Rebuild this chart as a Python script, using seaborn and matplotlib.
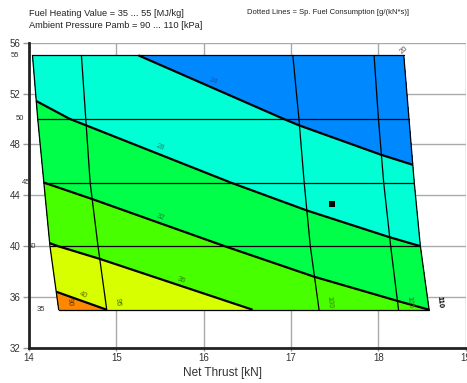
import numpy as np
import pandas as pd
import matplotlib
matplotlib.use("Agg")
import matplotlib.pyplot as plt
import seaborn as sns

# Carpet parameters
heating_values = [35, 40, 45, 50, 55]          # fuel heating value [MJ/kg]
ambient_pressures = [90, 95, 100, 105, 110]    # ambient pressure [kPa]

# Net thrust [kN] at each carpet node (rows: heating value, columns: pressure)
net_thrust = [
    [14.34, 14.89, 17.32, 18.23, 18.58],
    [14.24, 14.79, 17.22, 18.14, 18.48],
    [14.17, 14.70, 17.15, 18.06, 18.41],
    [14.10, 14.65, 17.09, 18.00, 18.35],
    [14.04, 14.60, 17.02, 17.95, 18.29],
]

# Specific fuel consumption [g/(kN*s)] at each carpet node
sfc = [
    [41.5, 40.0, 34.18, 32.57, 32.0],
    [36.2, 35.0, 29.97, 28.47, 28.0],
    [32.0, 30.95, 26.46, 25.12, 24.8],
    [28.67, 27.67, 23.72, 22.55, 21.94],
    [26.3, 25.0, 21.3, 20.12, 20.0],
]

sfc_levels = [20, 24, 28, 32, 36, 40, 44]
band_colors = ['#0088ff', '#00ffd4', '#00ff48', '#48ff00', '#d8ff00', '#ff8800']

# Design point
design_thrust = [17.47]
design_heating = [43.35]

# Contour label placement
sfc_label_x = [18.29, 16.11, 15.50, 15.50, 15.74, 14.62]
sfc_label_y = [55.45, 52.95, 47.75, 42.25, 37.35, 36.15]
sfc_label_text = ['20', '24', '28', '32', '36', '40']
sfc_label_color = ['#555555', '#1a55a0', '#10907e', '#148436', '#2a8200', '#667000']

sns.set_theme(style="whitegrid")
plt.rcParams['font.family'] = ['Liberation Sans', 'DejaVu Sans']

fig = plt.figure(figsize=(4.67, 3.83), dpi=100)
ax = fig.add_axes([29 / 467, 35.1 / 383, 436.8 / 467, 305.2 / 383])

X = np.array(net_thrust)
H = np.array(heating_values, dtype=float)[:, None] * np.ones((1, len(ambient_pressures)))
Z = np.array(sfc)

ax.contourf(X, H, Z, levels=sfc_levels, colors=band_colors, zorder=2)
ax.contour(X, H, Z, levels=sfc_levels[1:-1], colors='black', linewidths=1.6, zorder=4)

# Carpet grid lines
rows = []
for i, hv in enumerate(heating_values):
    for j, p in enumerate(ambient_pressures):
        rows.append({'thrust': net_thrust[i][j], 'heating': hv, 'pressure': p})
carpet = pd.DataFrame(rows)

sns.lineplot(data=carpet, x='thrust', y='heating', units='pressure', estimator=None,
             sort=False, color='black', linewidth=0.9, ax=ax, zorder=3, legend=False)
sns.lineplot(data=carpet.sort_values(['heating', 'thrust']), x='thrust', y='heating',
             units='heating', estimator=None, sort=False, color='black', linewidth=0.9,
             ax=ax, zorder=3, legend=False)

sns.scatterplot(x=design_thrust, y=design_heating, marker='s', color='black', s=22,
                edgecolor='black', linewidth=0, ax=ax, zorder=6, legend=False)

# SFC contour labels
for x, y, t, c in zip(sfc_label_x, sfc_label_y, sfc_label_text, sfc_label_color):
    rot = 40 if t == '20' else -22
    ax.text(x, y, t, fontsize=5.5, color=c, rotation=rot, ha='center', va='center', zorder=7)

# Heating value labels on the left edge
for i, hv in enumerate(heating_values):
    ax.text(net_thrust[i][0] - 0.155, hv, str(hv), fontsize=5.5, color='#333333',
            ha='right', va='center', zorder=10, clip_on=False)

# Pressure labels at the bottom edge
p_colors = ['#5a3000', '#3c6e00', '#3c7a00', '#3c7a00', 'black']
for j, p in enumerate(ambient_pressures):
    ax.text(net_thrust[0][j] + 0.12, 35.6, str(p), fontsize=5.5, color=p_colors[j],
            rotation=-85, ha='center', va='center', zorder=7,
            fontweight='bold' if p == 110 else 'normal')

ax.set_xlim(14, 19)
ax.set_ylim(32, 56)
ax.set_xticks([14, 15, 16, 17, 18, 19])
ax.set_yticks([32, 36, 40, 44, 48, 52, 56])
ax.grid(True, color='#aaaaaa', linewidth=1.0)
ax.set_axisbelow(True)
ax.set_facecolor('white')
for side in ['top', 'right']:
    ax.spines[side].set_visible(False)
for side in ['left', 'bottom']:
    ax.spines[side].set_visible(True)
    ax.spines[side].set_color('#222222')
    ax.spines[side].set_linewidth(2)
ax.tick_params(axis='y', which='major', labelsize=7, colors='#999999',
               labelcolor='#333333', length=4, width=1, direction='out',
               left=True, pad=2)
ax.tick_params(axis='x', which='major', labelsize=7, colors='#999999',
               labelcolor='#333333', length=2, width=1, direction='out',
               bottom=True, pad=1.5)
ax.set_xlabel('Net Thrust [kN]', fontsize=8.5, color='#333333')
ax.set_ylabel('')
ax.xaxis.set_label_coords(0.442, -0.062)

fig.text(29 / 467, 1 - 13 / 383, 'Fuel Heating Value = 35 ... 55 [MJ/kg]',
         fontsize=6.7, color='#222222', ha='left', va='center')
fig.text(29 / 467, 1 - 25 / 383, 'Ambient Pressure Pamb = 90 ... 110 [kPa]',
         fontsize=6.7, color='#222222', ha='left', va='center')
fig.text(247 / 467, 1 - 13 / 383, 'Dotted Lines = Sp. Fuel Consumption [g/(kN*s)]',
         fontsize=5.5, color='#222222', ha='left', va='center')

fig.savefig('out.png', dpi=100)
